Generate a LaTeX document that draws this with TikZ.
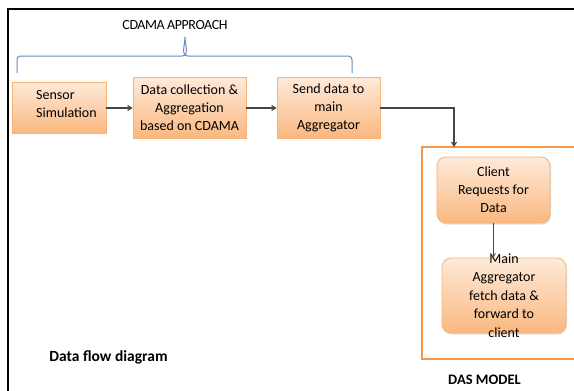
\documentclass[tikz,border=0pt]{standalone}
\usepackage{fontspec}
\setmainfont{Carlito}
\usetikzlibrary{arrows.meta,shadows}
\definecolor{boxtop}{RGB}{254,234,218}
\definecolor{boxbot}{RGB}{250,184,128}
\definecolor{boxline}{RGB}{248,178,118}
\definecolor{dasline}{RGB}{247,150,70}
\definecolor{bracecol}{RGB}{100,140,195}
\definecolor{flowcol}{RGB}{70,70,70}
\tikzset{
  boxtext/.style={align=center, inner sep=0pt, font=\fontsize{14}{18}\selectfont},
  stepbox/.style={draw=boxline, line width=0.8pt, top color=boxtop, bottom color=boxbot, boxtext},
  roundbox/.style={stepbox, rounded corners=9pt,
    drop shadow={shadow xshift=1pt, shadow yshift=-1.5pt, opacity=0.25}},
  flow/.style={draw=flowcol, line width=1.1pt, -{Straight Barb[length=4pt,width=5pt]}},
  thinflow/.style={draw=flowcol, line width=0.7pt, -{Straight Barb[length=4pt,width=5pt]}},
  caption/.style={inner sep=0pt, font=\fontsize{14}{16}\selectfont\bfseries}
}
\begin{document}
\begin{tikzpicture}[x=1pt, y=-1pt]
\useasboundingbox (0,0) rectangle (574,391);
\fill[white] (0,0) rectangle (574,391);
% outer frame, open to the right and bottom
\draw[black, line width=2pt] (8,391) -- (8,8.5) -- (575,8.5);

% heading and brace over the approach steps
\node[inner sep=0pt, font=\fontsize{14}{16}\selectfont\addfontfeatures{LetterSpace=-3}] (approach) at (175,25) {CDAMA\,APPROACH};
\coordinate (bl) at (17,73);
\coordinate (br) at (352,73);
\coordinate (btip) at (185,37);
\draw[bracecol, line width=1pt]
  (bl) -- (17,60) to[out=90,in=180] (20,56) -- (182,56) to[out=0,in=-90] (btip)
  to[out=-90,in=180] (188,56) -- (349,56) to[out=0,in=90] (352,60) -- (br);

% approach steps
\node[stepbox, minimum width=94pt, minimum height=51pt] (sensor) at (59,107.5) {};
\node[boxtext, align=left, anchor=west] (sensortext) at (36,104.5) {Sensor\\Simulation};
\node[stepbox, minimum width=113pt, minimum height=61pt] (collect) at (189.5,107.5) {Data collection \&\\Aggregation\\based on CDAMA};
\node[stepbox, minimum width=103pt, minimum height=61pt] (send) at (328.5,107.5) {Send data to\\main\\Aggregator};

\draw[flow] (sensor.east |- 0,108) -- (collect.west |- 0,108);
\draw[flow] (collect.east |- 0,108) -- (send.west |- 0,108);

% DAS model frame
\draw[dasline, line width=1.6pt] (576,147) -- (422,147) -- (422,359) -- (576,359);
\coordinate (dastop) at (454,147);
\draw[flow] (send.east |- 0,108) -- (454,108) -- (dastop);

\node[roundbox, minimum width=113pt, minimum height=66pt] (client) at (493.5,190) {Client\\Requests for\\Data};
\node[roundbox, minimum width=124pt, minimum height=75pt] (mainagg) at (504,295.5) {};
\node[boxtext, font=\fontsize{14}{18.5}\selectfont] (mainaggtext) at (mainagg.center) {Main\\Aggregator\\fetch data \&\\forward to\\client};
\draw[thinflow] (client.south -| 493,0) -- (493,258);

% captions
\node[caption, font=\fontsize{15.5}{16}\selectfont\bfseries] (dfd) at (108.5,357) {Data flow diagram};
\node[caption, font=\fontsize{14.5}{16}\selectfont\bfseries] (das) at (484.5,380) {DAS MODEL};
\end{tikzpicture}
\end{document}
